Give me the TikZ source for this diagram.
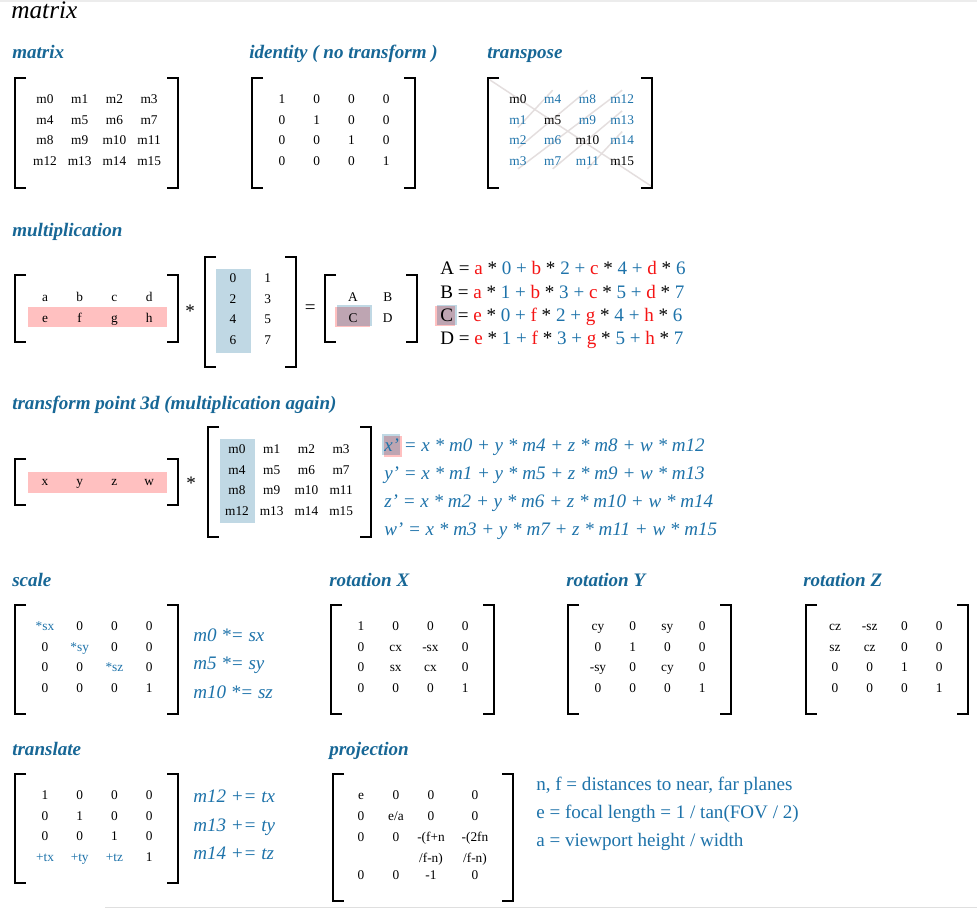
\documentclass[tikz,border=0pt]{standalone}
\usepackage{fontspec}
\setmainfont{Liberation Serif}
\usetikzlibrary{calc,backgrounds}
\definecolor{hdblue}{RGB}{23,103,150}
\definecolor{txtblue}{RGB}{30,115,170}
\definecolor{eqred}{RGB}{245,20,20}
\definecolor{hlpink}{RGB}{255,192,192}
\definecolor{hlblue}{RGB}{192,216,228}
\definecolor{hlboth}{RGB}{190,165,178}
\definecolor{swapgray}{RGB}{228,222,222}
\tikzset{>=latex}
\tikzset{
  entry/.style={inner sep=0pt,font=\fontsize{10}{12}\selectfont,text height=0.68em,text depth=0pt},
  heading/.style={anchor=base west,inner sep=0pt,text=hdblue,font=\fontsize{14.3}{17}\selectfont\bfseries\itshape},
  bigtext/.style={anchor=base west,inner sep=0pt,font=\fontsize{14.3}{17}\selectfont},
  eqit/.style={bigtext,text=txtblue,font=\fontsize{14.3}{17}\selectfont\itshape},
  brk/.style={line width=1.9pt},
  swap/.style={swapgray,line width=1.1pt}
}
\newcommand{\rd}[1]{\textcolor{eqred}{#1}}
\newcommand{\bl}[1]{\textcolor{txtblue}{#1}}
\newcommand{\brackets}[4]{%
  \draw[brk] (#1+11,#3) -- (#1,#3) -- (#1,#4) -- (#1+11,#4);
  \draw[brk] (#2-11,#3) -- (#2,#3) -- (#2,#4) -- (#2-11,#4);}
\newcommand{\grid}[5]{%
  \foreach \e [count=\i from 0] in {#5}{%
    \pgfmathtruncatemacro\gc{mod(\i,#4)}%
    \pgfmathtruncatemacro\gr{\i/#4}%
    \node[entry] (#1\i) at ({#2+34.7*\gc},{#3+20.7*\gr}) {\e};}}

\begin{document}
\begin{tikzpicture}[x=0.75pt,y=-0.75pt]
  \useasboundingbox (0,0) rectangle (977,909);
  \begin{scope}[on background layer]
    \fill[white] (0,0) rectangle (977,909);
  \end{scope}
  \draw[gray!15,line width=1.2pt] (0,0.8) -- (977,0.8);
  \draw[gray!25,line width=1.2pt] (105,907.5) -- (977,907.5);

  % Titles
  \node[anchor=base west,inner sep=0pt,font=\fontsize{19}{22}\selectfont\itshape] (title) at (11,19) {matrix};
  \node[heading] (hmat) at (12,59) {matrix};
  \node[heading] (hid) at (249,59) {identity ( no transform )};
  \node[heading] (htr) at (487,59) {transpose};
  \node[heading] (hmul) at (12,237) {multiplication};
  \node[heading] (hpt) at (12,409) {transform point 3d (multiplication again)};
  \node[heading] (hsc) at (12,586) {scale};
  \node[heading] (hrx) at (329,586) {rotation X};
  \node[heading] (hry) at (566,586) {rotation Y};
  \node[heading] (hrz) at (803,586) {rotation Z};
  \node[heading] (htl) at (12,755) {translate};
  \node[heading] (hpr) at (329,755) {projection};

  % Matrix, identity, transpose
  \brackets{15}{178}{78}{188}
  \grid{ma}{45}{99}{4}{m0,m1,m2,m3,m4,m5,m6,m7,m8,m9,m10,m11,m12,m13,m14,m15}
  \brackets{252}{415}{78}{188}
  \grid{id}{282}{99}{4}{1,0,0,0,0,1,0,0,0,0,1,0,0,0,0,1}
  \brackets{488}{652}{78}{188}
  \grid{tr}{518}{99}{4}{m0,\bl{m4},\bl{m8},\bl{m12},\bl{m1},m5,\bl{m9},\bl{m13},\bl{m2},\bl{m6},m10,\bl{m14},\bl{m3},\bl{m7},\bl{m11},m15}
  \coordinate (trTL) at (490,80);
  \coordinate (trBR) at (651,186);
  \begin{scope}[on background layer]
    \draw[swap] (trTL) -- (trBR);
    \draw[swap] ($(tr4.south)+(0,3)$) -- ($(tr1.north)+(0,-4)$);
    \draw[swap] ($(tr8.south)+(0,3)$) -- ($(tr2.north)+(0,-4)$);
    \draw[swap] ($(tr12.south)+(0,3)$) -- ($(tr3.north)+(0,-4)$);
    \draw[swap] ($(tr13.south)+(0,3)$) -- ($(tr7.north)+(0,-4)$);
    \draw[swap] ($(tr14.south)+(0,3)$) -- ($(tr11.north)+(0,-4)$);
  \end{scope}

  % Multiplication
  \fill[hlpink] (28,307) rectangle (167,327);
  \brackets{15}{178}{275}{342}
  \grid{mr}{45}{297}{4}{a,b,c,d,e,f,g,h}
  \node[bigtext] (mul1) at (185,317) {*};
  \fill[hlblue] (216,269) rectangle (251,353);
  \brackets{205}{296}{257}{367}
  \grid{mm}{233}{278}{2}{0,1,2,3,4,5,6,7}
  \node[bigtext] (eq1) at (304.5,313.5) {=};
  \fill[hlpink] (335,307) rectangle (370,327);
  \fill[hlblue] (337,305) rectangle (372,326);
  \fill[hlboth] (337,307) rectangle (370,326);
  \brackets{325}{417}{275}{342}
  \grid{mc}{353}{297}{2}{A,B,C,D}
  \fill[hlpink] (435,306) rectangle (455,326);
  \fill[hlblue] (437,304.5) rectangle (457,325);
  \fill[hlboth] (437,306) rectangle (455,325);
  \node[bigtext] (eqA) at (440,274) {A = \rd{a} * \bl{0 +} \rd{b} * \bl{2 +} \rd{c} * \bl{4 +} \rd{d} * \bl{6}};
  \node[bigtext] (eqB) at (440,298) {B = \rd{a} * \bl{1 +} \rd{b} * \bl{3 +} \rd{c} * \bl{5 +} \rd{d} * \bl{7}};
  \node[bigtext] (eqC) at (440,321) {C = \rd{e} * \bl{0 +} \rd{f} * \bl{2 +} \rd{g} * \bl{4 +} \rd{h} * \bl{6}};
  \node[bigtext] (eqD) at (440,344) {D = \rd{e} * \bl{1 +} \rd{f} * \bl{3 +} \rd{g} * \bl{5 +} \rd{h} * \bl{7}};

  % Transform point
  \fill[hlpink] (28,472) rectangle (167,493);
  \brackets{15}{178}{459}{505}
  \grid{pv}{45}{481}{4}{x,y,z,w}
  \node[bigtext] (mul2) at (186,489) {*};
  \fill[hlblue] (220,439) rectangle (255,523);
  \brackets{208}{371}{427}{537}
  \grid{pm}{237}{449}{4}{m0,m1,m2,m3,m4,m5,m6,m7,m8,m9,m10,m11,m12,m13,m14,m15}
  \fill[hlblue] (382,434) rectangle (400,455);
  \fill[hlpink] (384,436) rectangle (402,457);
  \fill[hlboth] (384,436) rectangle (400,455);
  \node[eqit] (eqx) at (384,451) {x' = x * m0 + y * m4 + z * m8 + w * m12};
  \node[eqit] (eqy) at (384,479) {y' = x * m1 + y * m5 + z * m9 + w * m13};
  \node[eqit] (eqz) at (384,507) {z' = x * m2 + y * m6 + z * m10 + w * m14};
  \node[eqit] (eqw) at (384,535) {w' = x * m3 + y * m7 + z * m11 + w * m15};

  % Scale, rotations
  \brackets{15}{178}{605}{714}
  \grid{sc}{45}{626}{4}{\bl{*sx},0,0,0,0,\bl{*sy},0,0,0,0,\bl{*sz},0,0,0,0,1}
  \node[eqit] (sx) at (193,641.5) {m0 *= sx};
  \node[eqit] (sy) at (193,669.5) {m5 *= sy};
  \node[eqit] (sz) at (193,698.5) {m10 *= sz};
  \brackets{331}{494}{605}{714}
  \grid{rx}{361}{626}{4}{1,0,0,0,0,cx,-sx,0,0,sx,cx,0,0,0,0,1}
  \brackets{568}{731}{605}{714}
  \grid{ry}{598}{626}{4}{cy,0,sy,0,0,1,0,0,-sy,0,cy,0,0,0,0,1}
  \brackets{806}{968}{605}{714}
  \grid{rz}{835}{626}{4}{cz,-sz,0,0,sz,cz,0,0,0,0,1,0,0,0,0,1}

  % Translate
  \brackets{15}{178}{774}{883}
  \grid{tl}{45}{795}{4}{1,0,0,0,0,1,0,0,0,0,1,0,\bl{+tx},\bl{+ty},\bl{+tz},1}
  \node[eqit] (tx) at (193,802.5) {m12 += tx};
  \node[eqit] (ty) at (193,831.5) {m13 += ty};
  \node[eqit] (tz) at (193,859.5) {m14 += tz};

  % Projection
  \brackets{333}{513}{774}{901}
  \node[entry] (pr0) at (361,795) {e};
  \node[entry] (pr1) at (396,795) {0};
  \node[entry] (pr2) at (431,795) {0};
  \node[entry] (pr3) at (475,795) {0};
  \node[entry] (pr4) at (361,816) {0};
  \node[entry] (pr5) at (396,816) {e/a};
  \node[entry] (pr6) at (431,816) {0};
  \node[entry] (pr7) at (475,816) {0};
  \node[entry] (pr8) at (361,837) {0};
  \node[entry] (pr9) at (396,837) {0};
  \node[entry] (pr10) at (431,837) {-(f+n};
  \node[entry] (pr11) at (475,837) {-(2fn};
  \node[entry] (pr10b) at (431,858) {/f-n)};
  \node[entry] (pr11b) at (475,858) {/f-n)};
  \node[entry] (pr12) at (361,875) {0};
  \node[entry] (pr13) at (396,875) {0};
  \node[entry] (pr14) at (431,875) {-1};
  \node[entry] (pr15) at (475,875) {0};
  \node[bigtext,text=txtblue] (nf) at (536,790.5) {n, f = distances to near, far planes};
  \node[bigtext,text=txtblue] (ne) at (536,818.5) {e = focal length = 1 / tan(FOV / 2)};
  \node[bigtext,text=txtblue] (na) at (536,846.5) {a = viewport height / width};
\end{tikzpicture}
\end{document}
